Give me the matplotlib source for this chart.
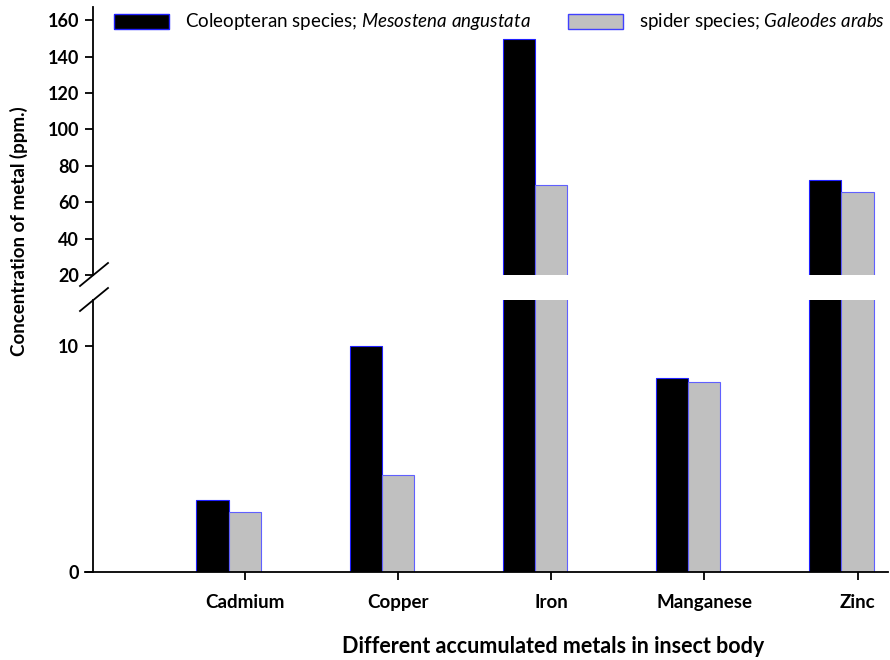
import matplotlib
matplotlib.use('Agg')
import matplotlib.pyplot as plt
from matplotlib.lines import Line2D
from matplotlib.patches import Rectangle
import numpy as np

metals = ["Cadmium", "Copper", "Iron", "Manganese", "Zinc"]
coleopteran = [3.2, 10.0, 149.5, 8.6, 72.0]
spider = [2.65, 4.3, 69.7, 8.4, 65.8]
series_names = [r'Coleopteran species; $\it{Mesostena\ angustata}$',
                r'spider species; $\it{Galeodes\ arabs}$']

plt.rcParams['font.family'] = ['Lato', 'DejaVu Sans']
plt.rcParams['mathtext.fontset'] = 'custom'
plt.rcParams['mathtext.it'] = 'Lato:italic'
plt.rcParams['mathtext.rm'] = 'Lato'

fig = plt.figure(figsize=(8.9, 6.6), dpi=100)
ax_lo = fig.add_axes([0.1045, 0.1333, 0.8935, 0.412])
ax_hi = fig.add_axes([0.1045, 0.583, 0.8935, 0.4064])

x = np.arange(len(metals))
w = 0.21
for ax in (ax_lo, ax_hi):
    ax.bar(x - w, coleopteran, w, color='black', edgecolor='#2020ff', linewidth=0.8, zorder=2)
    ax.bar(x, spider, w, color='#c0c0c0', edgecolor='#6060ff', linewidth=0.8, zorder=2)
    ax.set_xlim(-0.99, 4.2)
    for s in ('top', 'right'):
        ax.spines[s].set_visible(False)
    ax.spines['left'].set_linewidth(1.3)
    ax.tick_params(axis='y', direction='out', length=6, width=1.3, pad=4)

ax_lo.set_ylim(0, 12.05)
ax_lo.set_yticks([0, 10])
ax_lo.set_yticklabels(['0', '10'], fontweight='bold', fontsize=13)
ax_lo.set_xticks(x)
ax_lo.set_xticklabels(metals, fontweight='bold', fontsize=13.5)
ax_lo.tick_params(axis='x', direction='out', length=6, width=1.3, pad=10)
ax_lo.spines['bottom'].set_linewidth(1.3)
ax_lo.spines['bottom'].set_bounds(-1.04, 4.2)

ax_hi.set_ylim(20, 167.2)
ax_hi.set_yticks(np.arange(20, 161, 20))
ax_hi.set_yticklabels([str(v) for v in range(20, 161, 20)], fontweight='bold', fontsize=13)
ax_hi.set_xticks([])
ax_hi.spines['bottom'].set_visible(False)

# break marks
W, H = 890, 660
for yb in (275, 300):
    fig.add_artist(Line2D([80 / W, 108 / W], [1 - (yb + 11) / H, 1 - (yb - 12) / H],
                          color='black', linewidth=1.3, transform=fig.transFigure))

fig.text(0.021, 0.65, 'Concentration of metal (ppm.)', rotation=90, ha='center', va='center',
         fontsize=13.5, fontweight='bold')
fig.text(0.621, 0.021, 'Different accumulated metals in insect body', ha='center', va='center',
         fontsize=15.5, fontweight='bold')

# legend drawn by hand
legend_items = [(114, 'black', '#2020ff', series_names[0]),
                (568, '#c0c0c0', '#4040ff', series_names[1])]
for px, fc, ec, name in legend_items:
    fig.add_artist(Rectangle((px / W, 1 - 29 / H), 55 / W, 15 / H, facecolor=fc, edgecolor=ec,
                             linewidth=1.0, transform=fig.transFigure))
    fig.text((px + 71) / W, 1 - 21 / H, name, ha='left', va='center', fontsize=13.5)

fig.savefig('out.png', dpi=100)
